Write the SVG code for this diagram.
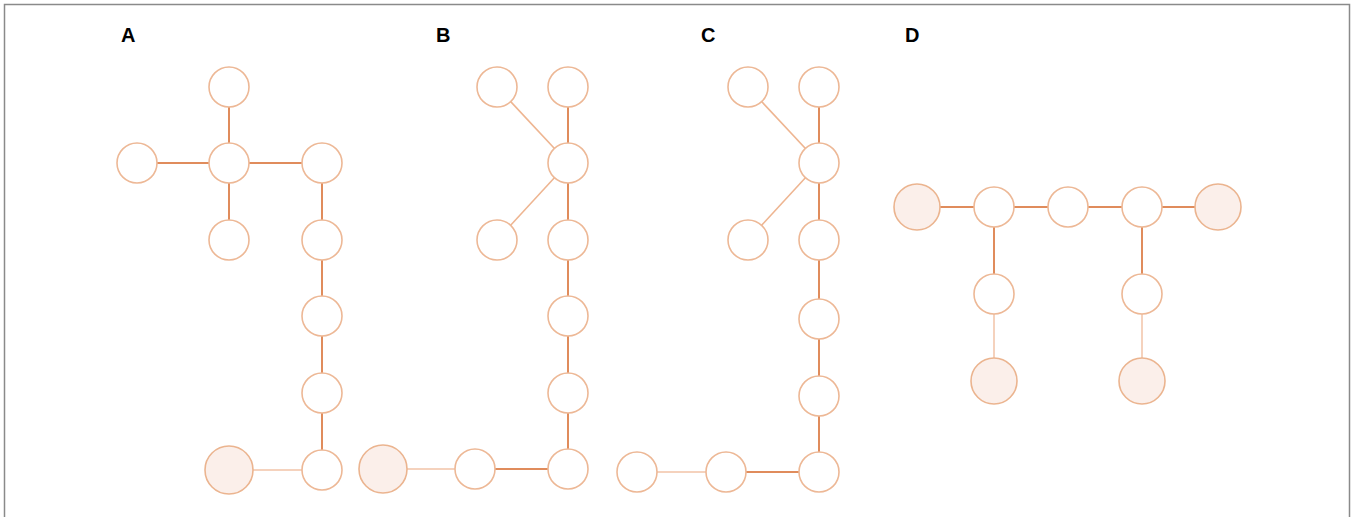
<svg xmlns="http://www.w3.org/2000/svg" width="1354" height="517" viewBox="0 0 1354 517">
<style>
.n{fill:#ffffff;stroke:#edb896;stroke-width:1.6}
.f{fill:#fbefea;stroke:#ebb48f;stroke-width:1.6}
.d{stroke:#e08c5c;stroke-width:2;fill:none}
.m{stroke:#eeb591;stroke-width:1.6;fill:none}
.l{stroke:#f5d2bd;stroke-width:2;fill:none}
.lbl{font-family:"Liberation Sans",Arial,sans-serif;font-weight:bold;font-size:20px;fill:#000}
</style>
<rect width="1354" height="517" fill="#ffffff"/>
<path d="M4.5,517 V4.5 H1349.5 V517" fill="none" stroke="#8a8a8a" stroke-width="1.5"/>
<g id="labels">
<text class="lbl" x="121" y="42">A</text>
<text class="lbl" x="436" y="42">B</text>
<text class="lbl" x="701" y="42">C</text>
<text class="lbl" x="905" y="42">D</text>
</g>
<g id="connectors">
<!-- A -->
<line class="d" x1="229" y1="87" x2="229" y2="163"/>
<line class="d" x1="137" y1="163" x2="229" y2="163"/>
<line class="d" x1="229" y1="163" x2="322" y2="163"/>
<line class="d" x1="229" y1="163" x2="229" y2="240"/>
<line class="d" x1="322" y1="163" x2="322" y2="470"/>
<line class="l" x1="229" y1="470" x2="322" y2="470"/>
<!-- B -->
<line class="m" x1="497" y1="87" x2="568" y2="163"/>
<line class="d" x1="568" y1="87" x2="568" y2="163"/>
<line class="m" x1="568" y1="163" x2="497" y2="240"/>
<line class="d" x1="568" y1="163" x2="568" y2="469"/>
<line class="d" x1="475" y1="469" x2="568" y2="469"/>
<line class="l" x1="383" y1="469" x2="475" y2="469"/>
<!-- C -->
<line class="m" x1="748" y1="87" x2="819" y2="163"/>
<line class="d" x1="819" y1="87" x2="819" y2="163"/>
<line class="m" x1="819" y1="163" x2="748" y2="240"/>
<line class="d" x1="819" y1="163" x2="819" y2="472"/>
<line class="d" x1="726" y1="472" x2="819" y2="472"/>
<line class="l" x1="637" y1="472" x2="726" y2="472"/>
<!-- D -->
<line class="d" x1="917" y1="207" x2="1218" y2="207"/>
<line class="d" x1="994" y1="207" x2="994" y2="294"/>
<line class="d" x1="1142" y1="207" x2="1142" y2="294"/>
<line class="l" x1="994" y1="294" x2="994" y2="381"/>
<line class="l" x1="1142" y1="294" x2="1142" y2="381"/>
</g>
<g id="panelA">
<circle id="a1" class="n" cx="229" cy="87" r="20"/>
<circle id="a2" class="n" cx="137" cy="163" r="20"/>
<circle id="a3" class="n" cx="229" cy="163" r="20"/>
<circle id="a4" class="n" cx="322" cy="163" r="20"/>
<circle id="a5" class="n" cx="229" cy="240" r="20"/>
<circle id="a6" class="n" cx="322" cy="240" r="20"/>
<circle id="a7" class="n" cx="322" cy="316" r="20"/>
<circle id="a8" class="n" cx="322" cy="393" r="20"/>
<circle id="a9" class="n" cx="322" cy="470" r="20"/>
<circle id="a10" class="f" cx="229" cy="470" r="24"/>
</g>
<g id="panelB">
<circle id="b1" class="n" cx="497" cy="87" r="20"/>
<circle id="b2" class="n" cx="568" cy="87" r="20"/>
<circle id="b3" class="n" cx="568" cy="163" r="20"/>
<circle id="b4" class="n" cx="497" cy="240" r="20"/>
<circle id="b5" class="n" cx="568" cy="240" r="20"/>
<circle id="b6" class="n" cx="568" cy="316" r="20"/>
<circle id="b7" class="n" cx="568" cy="393" r="20"/>
<circle id="b8" class="n" cx="568" cy="469" r="20"/>
<circle id="b9" class="n" cx="475" cy="469" r="20"/>
<circle id="b10" class="f" cx="383" cy="469" r="24"/>
</g>
<g id="panelC">
<circle id="c1" class="n" cx="748" cy="87" r="20"/>
<circle id="c2" class="n" cx="819" cy="87" r="20"/>
<circle id="c3" class="n" cx="819" cy="163" r="20"/>
<circle id="c4" class="n" cx="748" cy="240" r="20"/>
<circle id="c5" class="n" cx="819" cy="240" r="20"/>
<circle id="c6" class="n" cx="819" cy="319" r="20"/>
<circle id="c7" class="n" cx="819" cy="396" r="20"/>
<circle id="c8" class="n" cx="819" cy="472" r="20"/>
<circle id="c9" class="n" cx="726" cy="472" r="20"/>
<circle id="c10" class="n" cx="637" cy="472" r="20"/>
</g>
<g id="panelD">
<circle id="d1" class="f" cx="917" cy="207" r="23"/>
<circle id="d2" class="n" cx="994" cy="207" r="20"/>
<circle id="d3" class="n" cx="1068" cy="207" r="20"/>
<circle id="d4" class="n" cx="1142" cy="207" r="20"/>
<circle id="d5" class="f" cx="1218" cy="207" r="23"/>
<circle id="d6" class="n" cx="994" cy="294" r="20"/>
<circle id="d7" class="n" cx="1142" cy="294" r="20"/>
<circle id="d8" class="f" cx="994" cy="381" r="23"/>
<circle id="d9" class="f" cx="1142" cy="381" r="23"/>
</g>
</svg>
